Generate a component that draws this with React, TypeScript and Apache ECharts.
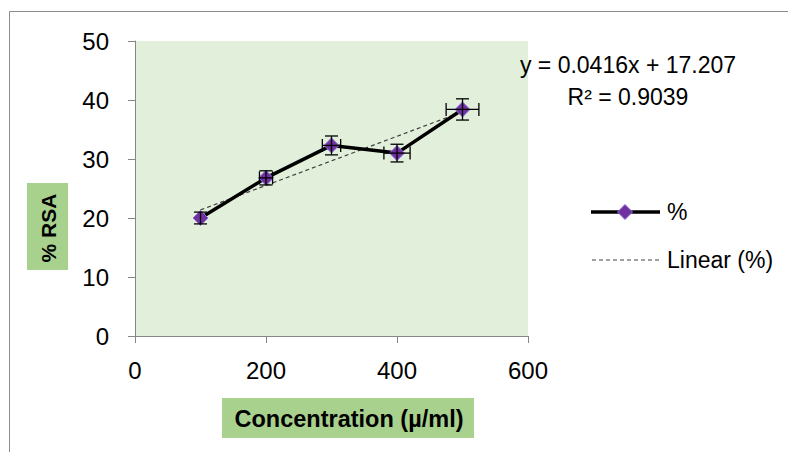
import React, { useEffect, useRef } from "react";
import * as echarts from "echarts";

const concentrations = [100, 200, 300, 400, 500];
const rsaValues = [20.0, 26.8, 32.3, 31.0, 38.4];
const yErrors = [1.0, 1.2, 1.6, 1.5, 1.8];
const xErrors = [0, 10, 14, 20, 25];
const trendSlope = 0.0416;
const trendIntercept = 17.207;
const rSquared = "0.9039";
const xTicks = [0, 200, 400, 600];
const yTicks = [0, 10, 20, 30, 40, 50];
const legendNames = ["%", "Linear (%)"];

const FONT = "'Liberation Sans', 'Open Sans', sans-serif";

export default function App() {
  const ref = useRef<HTMLDivElement>(null);
  useEffect(() => {
    if (!ref.current) return;
    const chart = echarts.init(ref.current, null, { renderer: "svg" });
    const lineData = concentrations.map((x, i) => [x, rsaValues[i]]);
    const errData = concentrations.map((x, i) => [x, rsaValues[i], xErrors[i], yErrors[i]]);
    const x0 = concentrations[0];
    const x1 = concentrations[concentrations.length - 1];
    const trendData = [
      [x0, trendSlope * x0 + trendIntercept],
      [x1, trendSlope * x1 + trendIntercept],
    ];
    const option: any = {
      animation: false,
      backgroundColor: "#ffffff",
      grid: { left: 135, top: 41, width: 393, height: 295, show: true, backgroundColor: "#e2efda", borderWidth: 0 },
      xAxis: {
        type: "value",
        min: xTicks[0],
        max: xTicks[xTicks.length - 1],
        interval: 200,
        splitLine: { show: false },
        axisLine: { show: true, lineStyle: { color: "#868686", width: 1 } },
        axisTick: { show: true, length: 7, lineStyle: { color: "#868686" } },
        axisLabel: { color: "#000", fontSize: 24, fontFamily: FONT, margin: 22 },
      },
      yAxis: {
        type: "value",
        min: yTicks[0],
        max: yTicks[yTicks.length - 1],
        interval: 10,
        splitLine: { show: false },
        axisLine: { show: true, lineStyle: { color: "#868686", width: 1 } },
        axisTick: { show: true, length: 7, lineStyle: { color: "#868686" } },
        axisLabel: { color: "#000", fontSize: 24, fontFamily: FONT, margin: 26 },
      },
      series: [
        {
          name: legendNames[1],
          type: "line",
          data: trendData,
          symbol: "none",
          lineStyle: { color: "#404040", width: 1.2, type: [4, 3] },
          z: 2,
        },
        {
          name: legendNames[0],
          type: "line",
          data: lineData,
          symbol: "diamond",
          symbolSize: 15,
          lineStyle: { color: "#000", width: 3.5 },
          itemStyle: { color: "#7030a0", borderColor: "#8a6fd6", borderWidth: 1 },
          z: 3,
        },
        {
          name: "err",
          type: "custom",
          data: errData,
          z: 4,
          renderItem: (params: any, api: any) => {
            const x = api.value(0);
            const y = api.value(1);
            const xe = api.value(2);
            const ye = api.value(3);
            const top = api.coord([x, y + ye]);
            const bot = api.coord([x, y - ye]);
            const left = api.coord([x - xe, y]);
            const right = api.coord([x + xe, y]);
            const cap = 6.5;
            const style = { stroke: "#000", lineWidth: 1.3 };
            const children: any[] = [
              { type: "line", shape: { x1: top[0], y1: top[1], x2: bot[0], y2: bot[1] }, style },
              { type: "line", shape: { x1: top[0] - cap, y1: top[1], x2: top[0] + cap, y2: top[1] }, style },
              { type: "line", shape: { x1: bot[0] - cap, y1: bot[1], x2: bot[0] + cap, y2: bot[1] }, style },
            ];
            if (xe > 0) {
              children.push(
                { type: "line", shape: { x1: left[0], y1: left[1], x2: right[0], y2: right[1] }, style },
                { type: "line", shape: { x1: left[0], y1: left[1] - cap, x2: left[0], y2: left[1] + cap }, style },
                { type: "line", shape: { x1: right[0], y1: right[1] - cap, x2: right[0], y2: right[1] + cap }, style }
              );
            }
            return { type: "group", children };
          },
        },
      ],
      graphic: [
        { type: "line", shape: { x1: 9.5, y1: 11.5, x2: 788, y2: 11.5 }, style: { stroke: "#8c8c8c", lineWidth: 1 } },
        { type: "line", shape: { x1: 9.5, y1: 11.5, x2: 9.5, y2: 452 }, style: { stroke: "#8c8c8c", lineWidth: 1 } },
        {
          type: "text",
          x: 628,
          y: 65,
          style: {
            text: `y = ${trendSlope}x + ${trendIntercept}`,
            fill: "#000",
            fontSize: 23,
            fontFamily: FONT,
            align: "center",
            verticalAlign: "middle",
          },
        },
        {
          type: "text",
          x: 628,
          y: 97,
          style: {
            text: `R² = ${rSquared}`,
            fill: "#000",
            fontSize: 23,
            fontFamily: FONT,
            align: "center",
            verticalAlign: "middle",
          },
        },
        // legend
        { type: "line", shape: { x1: 591, y1: 212, x2: 660, y2: 212 }, style: { stroke: "#000", lineWidth: 3.5 } },
        {
          type: "polygon",
          shape: { points: [[625, 204.5], [632.5, 212], [625, 219.5], [617.5, 212]] },
          style: { fill: "#7030a0", stroke: "#8a6fd6", lineWidth: 1 },
        },
        {
          type: "text",
          x: 667,
          y: 212,
          style: { text: legendNames[0], fill: "#000", fontSize: 23, fontFamily: FONT, verticalAlign: "middle" },
        },
        {
          type: "line",
          shape: { x1: 592, y1: 260, x2: 660, y2: 260 },
          style: { stroke: "#404040", lineWidth: 1.2, lineDash: [4, 3] },
        },
        {
          type: "text",
          x: 667,
          y: 260,
          style: { text: legendNames[1], fill: "#000", fontSize: 23, fontFamily: FONT, verticalAlign: "middle" },
        },
        // axis titles
        { type: "rect", shape: { x: 27, y: 183, width: 41, height: 87 }, style: { fill: "#a9d18e" } },
        {
          type: "text",
          x: 48,
          y: 228,
          rotation: Math.PI / 2,
          style: {
            text: "% RSA",
            fill: "#000",
            fontSize: 21,
            fontWeight: "bold",
            fontFamily: FONT,
            align: "center",
            verticalAlign: "middle",
          },
        },
        { type: "rect", shape: { x: 222, y: 398, width: 252, height: 40 }, style: { fill: "#a9d18e" } },
        {
          type: "text",
          x: 349,
          y: 419,
          style: {
            text: "Concentration (µ/ml)",
            fill: "#000",
            fontSize: 23.5,
            fontWeight: "bold",
            fontFamily: FONT,
            align: "center",
            verticalAlign: "middle",
          },
        },
      ],
    };
    chart.setOption(option);
    return () => chart.dispose();
  }, []);
  return <div ref={ref} style={{ position: "absolute", left: 0, top: 0, width: 788, height: 452 }} />;
}
